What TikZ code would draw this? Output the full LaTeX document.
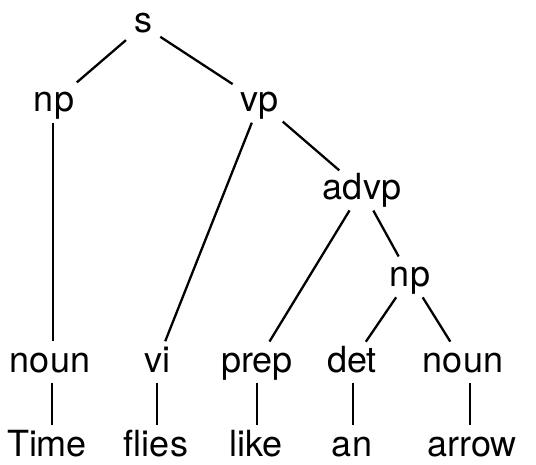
\documentclass[tikz,border=0pt]{standalone}
\usepackage{fontspec}
\setmainfont{TeX Gyre Heros}
\begin{document}
\begin{tikzpicture}[x=1pt,y=-1pt,
  lab/.style={anchor=base,inner xsep=5pt,inner ysep=0pt,outer sep=0pt,
    text height=27pt,text depth=7pt,font=\fontsize{36}{40}\selectfont},
  top/.style={lab,text height=22pt},
  word/.style={lab,text depth=0pt},
  edge/.style={line width=2.3pt,shorten <=4pt,shorten >=4pt}]
\useasboundingbox (0,0) rectangle (536,465);
\node[top] (s) at (143,33) {s};
\node[lab] (np) at (54,112) {np};
\node[lab] (vp) at (260,112) {vp};
\node[lab] (advp) at (362,200) {advp};
\node[lab] (np2) at (410,287) {np};
\node[lab] (noun) at (50,372) {noun};
\node[lab] (vi) at (157,372) {vi};
\node[lab] (prep) at (257,372) {prep};
\node[lab] (det) at (352,372) {det};
\node[lab] (noun2) at (463,372) {noun};
\node[word] (w1) at (47,456) {Time};
\node[word] (w2) at (156,456) {flies};
\node[word] (w3) at (256,456) {like};
\node[word] (w4) at (352,456) {an};
\node[word] (w5) at (472,456) {arrow};
\draw[edge] (s) -- (np);
\draw[edge] (s) -- (vp);
\draw[edge] (np.south -| 53,0) -- (noun.north -| 53,0);
\draw[edge] (vp) -- (vi);
\draw[edge] (vp) -- (advp);
\draw[edge] (advp) -- (prep);
\draw[edge] (advp) -- (np2);
\draw[edge] (np2) -- (det);
\draw[edge] (np2) -- (noun2);
\draw[edge] (noun.south -| 52,0) -- (w1.north -| 52,0);
\draw[edge] (vi.south -| 157,0) -- (w2.north -| 157,0);
\draw[edge] (prep.south -| 257,0) -- (w3.north -| 257,0);
\draw[edge] (det.south -| 353,0) -- (w4.north -| 353,0);
\draw[edge] (noun2.south -| 470,0) -- (w5.north -| 470,0);
\end{tikzpicture}
\end{document}
